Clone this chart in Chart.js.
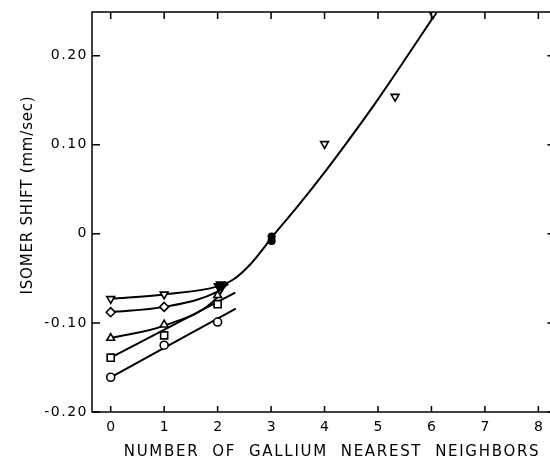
<!DOCTYPE html>
<html>
<head>
<meta charset="utf-8">
<script src="https://cdn.jsdelivr.net/npm/chart.js@4.4.1/dist/chart.umd.min.js"></script>
<style>
  html, body { margin: 0; padding: 0; background: #fff; overflow: hidden; }
  canvas { display: block; }
</style>
</head>
<body>
<!-- the right-hand frame line sits just past the window edge, as in the scan -->
<canvas id="isomerChart" width="561" height="461"></canvas>
<script>
// tick labels
const xTicks = [0, 1, 2, 3, 4, 5, 6, 7, 8];
const yTicks = [-0.20, -0.10, 0, 0.10, 0.20];
const xTitle = 'NUMBER  OF  GALLIUM  NEAREST  NEIGHBORS';
const yTitle = 'ISOMER SHIFT (mm/sec)';

// measured points (x = number of Ga neighbours, y = isomer shift mm/sec)
const downX = [0, 1, 4, 5.32, 6.03];
const downY = [-0.073, -0.068, 0.101, 0.154, 0.247];
const diamondX = [0, 1];
const diamondY = [-0.088, -0.082];
const upX = [0, 1, 2];
const upY = [-0.117, -0.102, -0.069];
const squareX = [0, 1, 2];
const squareY = [-0.139, -0.114, -0.079];
const circleX = [0, 1, 2];
const circleY = [-0.161, -0.125, -0.099];
// overlapping points that print as solid blobs
const blobDownX = [2.02, 2.06];
const blobDownY = [-0.059, -0.057];
const blobX = [3.01, 3.01];
const blobY = [-0.003, -0.008];

// fitted curves
const mainCurveX = [0, 1, 2, 2.3, 2.6, 2.9, 3.0, 3.5, 4.0, 4.4, 5.0, 6.1];
const mainCurveY = [-0.073, -0.068, -0.059, -0.051, -0.035, -0.013, -0.005, 0.031, 0.069, 0.101, 0.151, 0.249];
const diamondCurveX = [0, 1, 2, 2.2];
const diamondCurveY = [-0.088, -0.082, -0.065, -0.056];
const upCurveX = [0, 1, 2, 2.17];
const upCurveY = [-0.117, -0.103, -0.071, -0.055];
const squareLineX = [0, 2.33];
const squareLineY = [-0.139, -0.066];
const circleLineX = [0, 2.34];
const circleLineY = [-0.161, -0.084];

const pts = (xs, ys) => xs.map((x, i) => ({ x, y: ys[i] }));

function curve(xs, ys) {
  return {
    data: pts(xs, ys),
    showLine: true,
    borderColor: '#000',
    borderWidth: 2,
    pointRadius: 0,
    cubicInterpolationMode: 'monotone',
    order: 2
  };
}

function markers(xs, ys, style, rot, r, fill) {
  return {
    data: pts(xs, ys),
    showLine: false,
    pointStyle: style,
    rotation: rot || 0,
    pointRadius: r,
    pointBorderWidth: 1.6,
    pointBorderColor: '#000',
    pointBackgroundColor: fill || '#fff',
    order: 1
  };
}

// frame, inward ticks on all four sides, tick labels and axis titles
const frame = {
  id: 'frame',
  afterDraw(chart) {
    const { ctx, chartArea: a, scales } = chart;
    ctx.save();
    ctx.strokeStyle = '#000';
    ctx.lineWidth = 1.5;
    ctx.strokeRect(a.left, a.top, a.right - a.left, a.bottom - a.top);
    ctx.beginPath();
    xTicks.forEach(v => {
      const px = scales.x.getPixelForValue(v);
      ctx.moveTo(px, a.bottom); ctx.lineTo(px, a.bottom - 6);
      ctx.moveTo(px, a.top); ctx.lineTo(px, a.top + 7);
    });
    yTicks.forEach(v => {
      const py = scales.y.getPixelForValue(v);
      ctx.moveTo(a.left, py); ctx.lineTo(a.left + 8, py);
      ctx.moveTo(a.right, py); ctx.lineTo(a.right - 7, py);
    });
    ctx.stroke();

    ctx.fillStyle = '#000';
    ctx.font = '14px "DejaVu Sans"';
    ctx.textBaseline = 'middle';
    ctx.textAlign = 'center';
    ctx.letterSpacing = '0px';
    xTicks.forEach(v => {
      ctx.fillText(String(v), scales.x.getPixelForValue(v), a.bottom + 15);
    });
    ctx.textAlign = 'right';
    ctx.letterSpacing = '1.5px';
    yTicks.forEach(v => {
      const label = Math.abs(v) < 1e-9 ? '0' : v.toFixed(2);
      ctx.fillText(label, a.left - 4, scales.y.getPixelForValue(v));
    });

    ctx.font = '15px "DejaVu Sans"';
    ctx.textAlign = 'center';
    ctx.letterSpacing = '1.7px';
    ctx.fillText(xTitle, 332, 452);
    ctx.letterSpacing = '0.8px';
    ctx.translate(28, 195);
    ctx.rotate(-Math.PI / 2);
    ctx.fillText(yTitle, 0, 0);
    ctx.restore();
  }
};

new Chart(document.getElementById('isomerChart'), {
  type: 'scatter',
  data: {
    datasets: [
      curve(mainCurveX, mainCurveY),
      curve(diamondCurveX, diamondCurveY),
      curve(upCurveX, upCurveY),
      curve(squareLineX, squareLineY),
      curve(circleLineX, circleLineY),
      markers(downX, downY, 'triangle', 180, 4.5),
      markers(diamondX, diamondY, 'rectRot', 0, 4.5),
      markers(upX, upY, 'triangle', 0, 4.5),
      markers(squareX, squareY, 'rect', 0, 5),
      markers(circleX, circleY, 'circle', 0, 4),
      markers(blobDownX, blobDownY, 'triangle', 180, 5, '#000'),
      markers(blobX, blobY, 'circle', 0, 3.3, '#000')
    ]
  },
  options: {
    responsive: false,
    animation: false,
    layout: { padding: { top: 12, right: 3, left: 0, bottom: 0 } },
    plugins: { legend: { display: false }, tooltip: { enabled: false } },
    scales: {
      x: {
        type: 'linear',
        min: -0.35,
        max: 8.30,
        afterBuildTicks: s => { s.ticks = xTicks.map(v => ({ value: v })); },
        afterFit: s => { s.height = 49; },
        grid: { display: false, drawTicks: false },
        border: { display: false },
        ticks: { display: false }
      },
      y: {
        type: 'linear',
        min: -0.20,
        max: 0.249,
        afterBuildTicks: s => { s.ticks = yTicks.map(v => ({ value: v })); },
        afterFit: s => { s.width = 92; },
        grid: { display: false, drawTicks: false },
        border: { display: false },
        ticks: { display: false }
      }
    }
  },
  plugins: [frame]
});
</script>
</body>
</html>
